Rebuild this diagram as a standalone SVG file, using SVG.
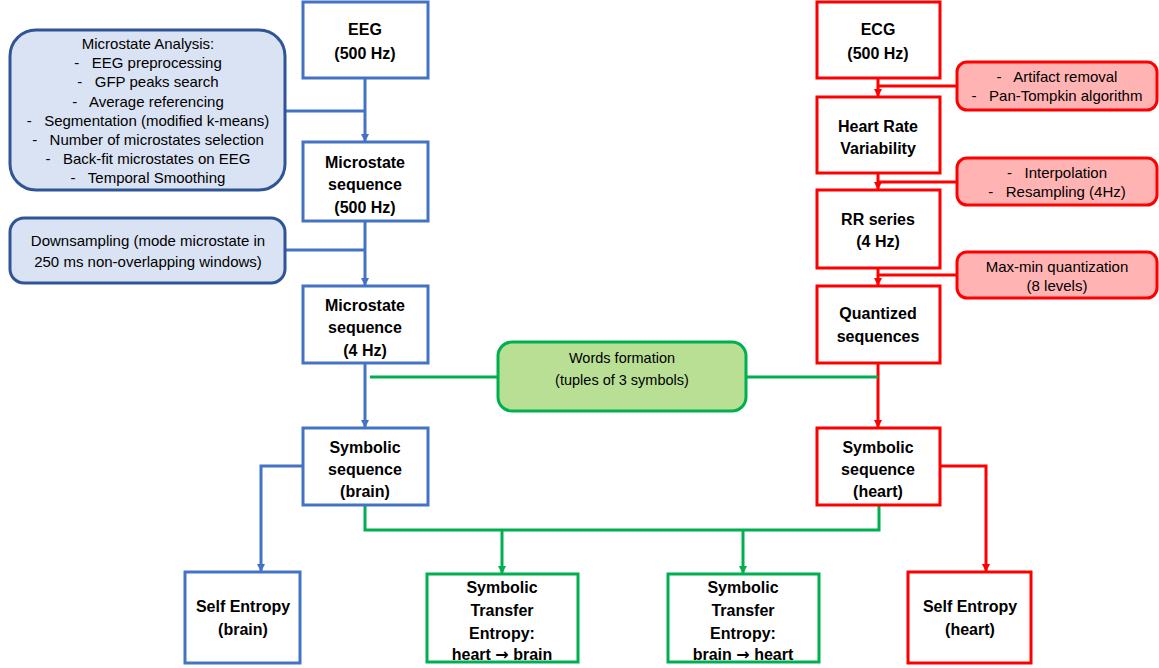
<svg xmlns="http://www.w3.org/2000/svg" width="1159" height="668" viewBox="0 0 1159 668">
<style>
.bb{fill:#fff;stroke:#4472C4;stroke-width:3}
.rb{fill:#fff;stroke:#FF0000;stroke-width:3}
.gb{fill:#fff;stroke:#00B050;stroke-width:3}
.bn{fill:#DAE3F3;stroke:#2F5597;stroke-width:3}
.rn{fill:#FFB3B3;stroke:#FF0000;stroke-width:3}
.gn{fill:#B9DF95;stroke:#00B050;stroke-width:3}
.t{font-family:"Liberation Sans",Arial,sans-serif;font-size:16px;font-weight:bold;text-anchor:middle;fill:#000}
.n{font-family:"Liberation Sans",Arial,sans-serif;font-size:15px;text-anchor:middle;fill:#000;white-space:pre}
.ar{font-family:"DejaVu Sans",sans-serif;font-weight:bold}
.cb{fill:none;stroke:#4472C4;stroke-width:3}
.cr{fill:none;stroke:#FF0000;stroke-width:3}
.cg{fill:none;stroke:#00B050;stroke-width:3}
</style>
<defs>
<marker id="ab" markerWidth="8" markerHeight="8" refX="7" refY="4" orient="auto" markerUnits="userSpaceOnUse"><path d="M0,0 L8,4 L0,8 z" fill="#4472C4"/></marker>
<marker id="ar" markerWidth="8" markerHeight="8" refX="7" refY="4" orient="auto" markerUnits="userSpaceOnUse"><path d="M0,0 L8,4 L0,8 z" fill="#FF0000"/></marker>
<marker id="ag" markerWidth="8" markerHeight="8" refX="7" refY="4" orient="auto" markerUnits="userSpaceOnUse"><path d="M0,0 L8,4 L0,8 z" fill="#00B050"/></marker>
</defs>
<g id="connectors">
<path class="cb" d="M365,78 V141" marker-end="url(#ab)"/>
<path class="cb" d="M285,111 H365"/>
<path class="cb" d="M365,221 V285" marker-end="url(#ab)"/>
<path class="cb" d="M285,250 H365"/>
<path class="cb" d="M365,363 V427" marker-end="url(#ab)"/>
<path class="cb" d="M303,466 H261 V571" marker-end="url(#ab)"/>
<path class="cr" d="M878,78 V96" marker-end="url(#ar)"/>
<path class="cr" d="M957,86 H878"/>
<path class="cr" d="M878,173 V189" marker-end="url(#ar)"/>
<path class="cr" d="M957,182 H878"/>
<path class="cr" d="M878,268 V285" marker-end="url(#ar)"/>
<path class="cr" d="M957,275 H878"/>
<path class="cr" d="M878,363 V427" marker-end="url(#ar)"/>
<path class="cr" d="M940,466 H986 V571" marker-end="url(#ar)"/>
<path class="cg" d="M370,377 H498"/>
<path class="cg" d="M746,377 H878"/>
<path class="cg" d="M365,505 V530 H879 V505"/>
<path class="cg" d="M502,530 V573" marker-end="url(#ag)"/>
<path class="cg" d="M743,530 V573" marker-end="url(#ag)"/>
</g>
<g id="eeg"><rect class="bb" x="303" y="2" width="125" height="76"/><text class="t" x="365" y="35">EEG</text><text class="t" x="365" y="59">(500 Hz)</text></g>
<g id="ms500"><rect class="bb" x="303" y="142" width="125" height="79"/><text class="t" x="365" y="168">Microstate</text><text class="t" x="365" y="190">sequence</text><text class="t" x="365" y="213">(500 Hz)</text></g>
<g id="ms4"><rect class="bb" x="303" y="286" width="125" height="77"/><text class="t" x="365" y="311">Microstate</text><text class="t" x="365" y="333">sequence</text><text class="t" x="365" y="356">(4 Hz)</text></g>
<g id="symbrain"><rect class="bb" x="303" y="428" width="125" height="77"/><text class="t" x="365" y="453">Symbolic</text><text class="t" x="365" y="475">sequence</text><text class="t" x="365" y="497">(brain)</text></g>
<g id="sebrain"><rect class="bb" x="185" y="572" width="115" height="91"/><text class="t" x="243" y="612">Self Entropy</text><text class="t" x="243" y="635">(brain)</text></g>
<g id="ste1"><rect class="gb" x="427" y="574" width="151" height="88"/><text class="t" x="502" y="593">Symbolic</text><text class="t" x="502" y="616">Transfer</text><text class="t" x="502" y="639">Entropy:</text><text class="t" x="502" y="660">heart <tspan class="ar">→</tspan> brain</text></g>
<g id="ste2"><rect class="gb" x="668" y="574" width="151" height="88"/><text class="t" x="743" y="593">Symbolic</text><text class="t" x="743" y="616">Transfer</text><text class="t" x="743" y="639">Entropy:</text><text class="t" x="743" y="660">brain <tspan class="ar">→</tspan> heart</text></g>
<g id="seheart"><rect class="rb" x="908" y="572" width="123" height="91"/><text class="t" x="970" y="612">Self Entropy</text><text class="t" x="970" y="635">(heart)</text></g>
<g id="ecg"><rect class="rb" x="817" y="2" width="123" height="76"/><text class="t" x="878" y="35">ECG</text><text class="t" x="878" y="59">(500 Hz)</text></g>
<g id="hrv"><rect class="rb" x="817" y="97" width="123" height="76"/><text class="t" x="878" y="132">Heart Rate</text><text class="t" x="878" y="154">Variability</text></g>
<g id="rr"><rect class="rb" x="817" y="190" width="123" height="78"/><text class="t" x="878" y="225">RR series</text><text class="t" x="878" y="247">(4 Hz)</text></g>
<g id="quant"><rect class="rb" x="817" y="286" width="123" height="77"/><text class="t" x="878" y="319">Quantized</text><text class="t" x="878" y="342">sequences</text></g>
<g id="symheart"><rect class="rb" x="817" y="428" width="123" height="77"/><text class="t" x="878" y="453">Symbolic</text><text class="t" x="878" y="475">sequence</text><text class="t" x="878" y="497">(heart)</text></g>
<g id="msanalysis"><rect class="bn" x="10" y="30" width="275" height="160" rx="26"/>
<text class="n" x="148" y="49">Microstate Analysis:</text>
<text class="n" x="148" y="68">-   EEG preprocessing</text>
<text class="n" x="148" y="87">-   GFP peaks search</text>
<text class="n" x="148" y="107">-   Average referencing</text>
<text class="n" x="148" y="126">-   Segmentation (modified k-means)</text>
<text class="n" x="148" y="145">-   Number of microstates selection</text>
<text class="n" x="148" y="164">-   Back-fit microstates on EEG</text>
<text class="n" x="148" y="183">-   Temporal Smoothing</text></g>
<g id="downsampling"><rect class="bn" x="10" y="218" width="275" height="65" rx="14"/>
<text class="n" x="148" y="246">Downsampling (mode microstate in</text>
<text class="n" x="148" y="267">250 ms non-overlapping windows)</text></g>
<g id="artifact"><rect class="rn" x="957" y="62" width="200" height="48" rx="10"/>
<text class="n" x="1057" y="82">-   Artifact removal</text>
<text class="n" x="1057" y="101">-   Pan-Tompkin algorithm</text></g>
<g id="interp"><rect class="rn" x="957" y="158" width="200" height="47" rx="10"/>
<text class="n" x="1057" y="178">-   Interpolation</text>
<text class="n" x="1057" y="197">-   Resampling (4Hz)</text></g>
<g id="maxmin"><rect class="rn" x="957" y="252" width="200" height="46" rx="10"/>
<text class="n" x="1057" y="272">Max-min quantization</text>
<text class="n" x="1057" y="291">(8 levels)</text></g>
<g id="words"><rect class="gn" x="498" y="342" width="248" height="69" rx="14"/>
<text class="n" x="622" y="363" style="font-size:14.5px">Words formation</text>
<text class="n" x="622" y="385" style="font-size:14.5px">(tuples of 3 symbols)</text></g>
</svg>
